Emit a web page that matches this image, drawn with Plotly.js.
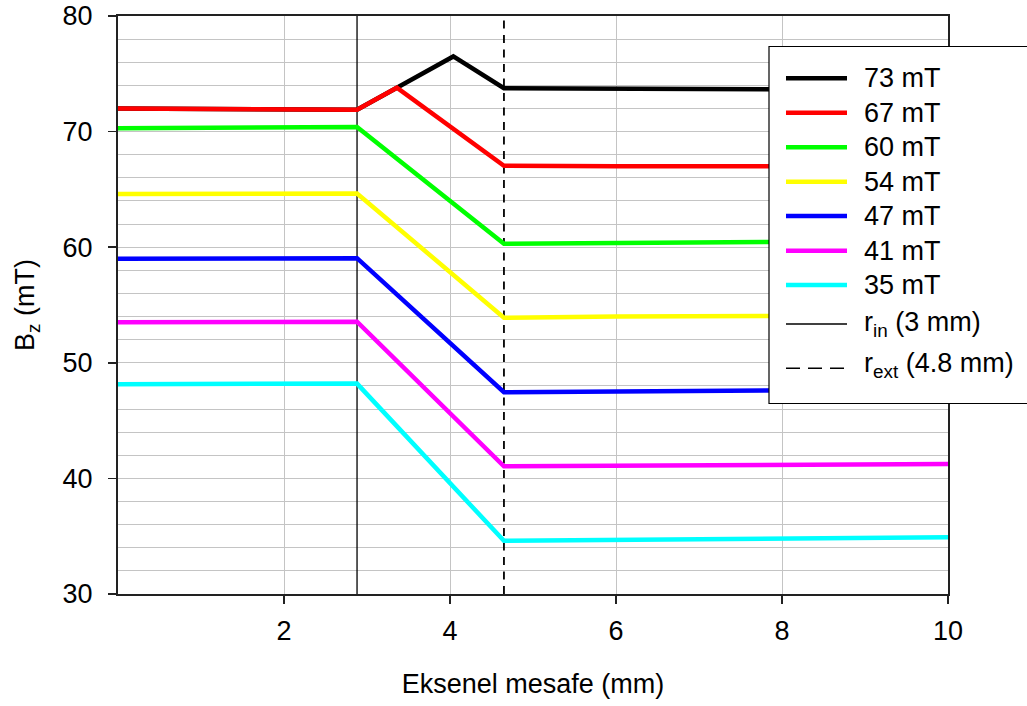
<!DOCTYPE html>
<html>
<head>
<meta charset="utf-8">
<script src="https://cdn.plot.ly/plotly-3.0.1.min.js"></script>
<style>
  html, body { margin: 0; padding: 0; background: #fff; }
  #chart { width: 1027px; height: 706px; }
</style>
</head>
<body>
<div id="chart"></div>
<script>
// Axial Bz profiles for seven field levels (mm vs mT)
const seriesNames = ['73 mT', '67 mT', '60 mT', '54 mT', '47 mT', '41 mT', '35 mT'];
const seriesColors = ['#000000', '#ff0000', '#00ff00', '#ffff00', '#0000ff', '#ff00ff', '#00ffff'];

const x73 = [0, 2.88, 3.36, 4.04, 4.65, 6, 8, 10];
const y73 = [72.0, 71.9, 73.8, 76.5, 73.75, 73.7, 73.65, 73.6];

const x67 = [0, 2.88, 3.36, 4.65, 6, 8, 10];
const y67 = [72.0, 71.9, 73.8, 67.05, 67.0, 67.0, 67.0];

const xCommon = [0, 2, 2.88, 4.65, 6, 8, 10];
const y60 = [70.3, 70.35, 70.4, 60.3, 60.4, 60.45, 60.5];
const y54 = [64.6, 64.65, 64.65, 53.9, 54.0, 54.05, 54.1];
const y47 = [59.0, 59.0, 59.05, 47.45, 47.5, 47.6, 47.7];
const y41 = [53.5, 53.55, 53.55, 41.05, 41.1, 41.2, 41.25];
const y35 = [48.15, 48.2, 48.2, 34.6, 34.7, 34.8, 34.9];

const seriesX = [x73, x67, xCommon, xCommon, xCommon, xCommon, xCommon];
const seriesY = [y73, y67, y60, y54, y47, y41, y35];

// Magnet radii marked as vertical reference lines
const refNames = ['r<sub>in</sub> (3 mm)', 'r<sub>ext</sub> (4.8 mm)'];
const refX = [2.88, 4.65];
const yRange = [30, 80];

const xTicks = [2, 4, 6, 8, 10];
const yTicks = [30, 40, 50, 60, 70, 80];

const FONT = 'Liberation Sans, Arial, sans-serif';
const FS = 27;

// plot-area geometry (pixels) used to place the legend box in paper units
const W = 1027, H = 706;
const M = { l: 118, r: 79, t: 16, b: 112 };
const pw = W - M.l - M.r, ph = H - M.t - M.b;
const px = v => (v - M.l) / pw;
const py = v => (H - M.b - v) / ph;

const traces = [];

// reference lines first so the curves sit on top
traces.push({
  x: [refX[0], refX[0]], y: yRange, mode: 'lines', name: refNames[0],
  line: { color: '#000', width: 1.3 }, showlegend: false, hoverinfo: 'skip'
});
traces.push({
  x: [refX[1], refX[1]], y: yRange, mode: 'lines', name: refNames[1],
  line: { color: '#000', width: 1.8, dash: '8px,6.5px' }, showlegend: false, hoverinfo: 'skip'
});

seriesNames.forEach((name, i) => {
  traces.push({
    x: seriesX[i], y: seriesY[i], mode: 'lines', name: name,
    line: { color: seriesColors[i], width: 4.5 }, showlegend: false
  });
});

// legend: box, line samples and labels
const shapes = [];
const annotations = [];
shapes.push({
  type: 'rect', xref: 'paper', yref: 'paper',
  x0: px(769), x1: px(1045), y0: py(403.5), y1: py(46.5),
  fillcolor: '#fff', line: { color: '#000', width: 1.2 }, layer: 'above'
});
const rowY = [78.3, 112.7, 147.3, 181.7, 216, 250.7, 285, 324, 368.3];
const rowTextY = [78.3, 112.7, 147.3, 181.7, 216, 250.7, 285, 324, 365];
const entries = seriesNames.map((n, i) => ({ text: n, line: { color: seriesColors[i], width: 4.5 } }));
entries.push({ text: refNames[0], line: { color: '#000', width: 1.3 } });
entries.push({ text: refNames[1], line: { color: '#000', width: 1.5, dash: '14px,8px' } });
entries.forEach((e, i) => {
  shapes.push({
    type: 'line', xref: 'paper', yref: 'paper',
    x0: px(786), x1: px(847), y0: py(rowY[i]), y1: py(rowY[i]),
    line: e.line, layer: 'above'
  });
  annotations.push({
    xref: 'paper', yref: 'paper', x: px(862), y: py(rowTextY[i]),
    xanchor: 'left', yanchor: 'middle', showarrow: false, text: e.text,
    font: { family: FONT, size: FS, color: '#000' }
  });
});

const layout = {
  width: W, height: H,
  margin: M,
  paper_bgcolor: '#fff', plot_bgcolor: '#fff',
  font: { family: FONT, size: FS, color: '#000' },
  showlegend: false,
  shapes: shapes,
  annotations: annotations,
  xaxis: {
    range: [0, 10], tickvals: xTicks, ticks: 'outside', ticklen: 8, tickwidth: 1.5,
    tickcolor: '#222', showline: true, linecolor: '#222', linewidth: 2, mirror: true,
    showgrid: true, gridcolor: '#c4c4c4', gridwidth: 1, zeroline: false,
    tickfont: { family: FONT, size: FS, color: '#000' },
    ticklabelstandoff: 4, ticklabeloverflow: 'allow',
    title: { text: 'Eksenel mesafe (mm)', font: { family: FONT, size: FS, color: '#000' }, standoff: 29 },
    automargin: false
  },
  yaxis: {
    range: yRange, tickvals: yTicks, ticks: 'outside', ticklen: 8, tickwidth: 1.5,
    tickcolor: '#222', showline: true, linecolor: '#222', linewidth: 2, mirror: true,
    showgrid: false, zeroline: false,
    minor: { tick0: 30, dtick: 2, showgrid: true, gridcolor: '#c4c4c4', gridwidth: 1, ticks: '' },
    tickfont: { family: FONT, size: FS, color: '#000' },
    ticklabelstandoff: 10, ticklabeloverflow: 'allow',
    title: { text: 'B<sub>z</sub> (mT)', font: { family: FONT, size: FS, color: '#000' }, standoff: 20 },
    automargin: false
  }
};

Plotly.newPlot('chart', traces, layout, { displayModeBar: false, staticPlot: true });
</script>
</body>
</html>
